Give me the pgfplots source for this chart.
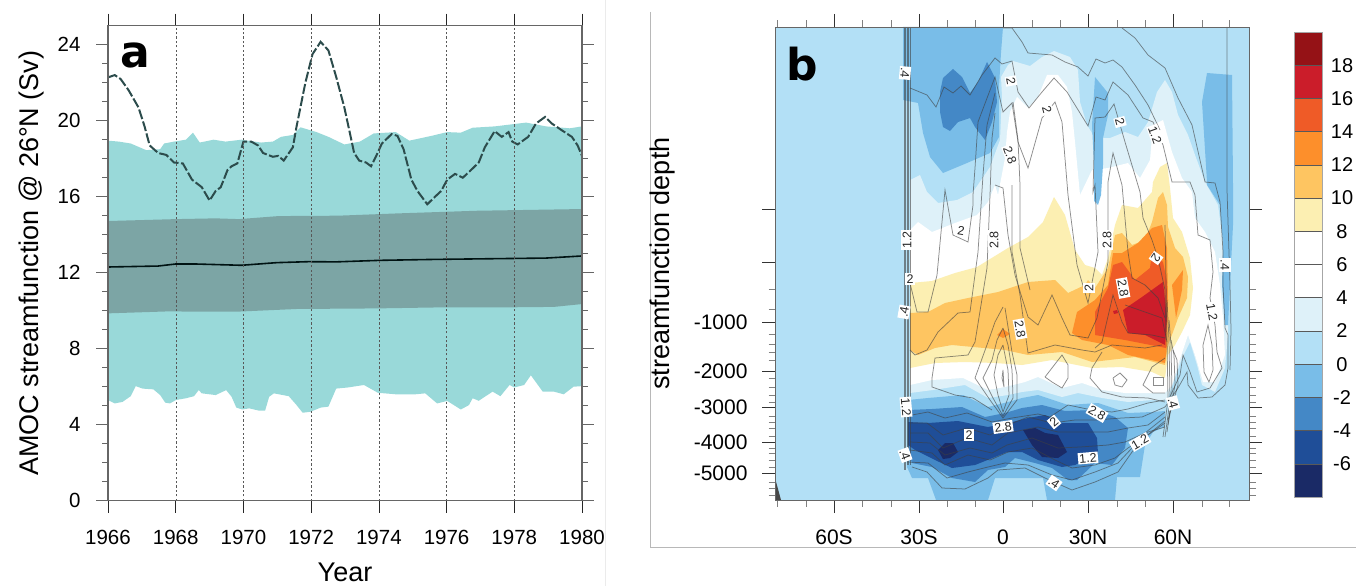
\documentclass[border=0pt]{standalone}
\usepackage{fontspec}
\setmainfont{Liberation Sans}
\newfontfamily\dv{DejaVu Sans}
\usepackage{pgfplots}
\pgfplotsset{compat=1.18}
\definecolor{cA}{HTML}{1A2A66}
\definecolor{cB}{HTML}{1F4E98}
\definecolor{cC}{HTML}{4488C6}
\definecolor{cD}{HTML}{79BDE8}
\definecolor{cE}{HTML}{B3E0F6}
\definecolor{cF}{HTML}{DEF1F9}
\definecolor{cG}{HTML}{FCEFB2}
\definecolor{cH}{HTML}{FEC561}
\definecolor{cI}{HTML}{FD8F2B}
\definecolor{cJ}{HTML}{EF5B27}
\definecolor{cK}{HTML}{CB1D2A}
\definecolor{cL}{HTML}{951216}
\definecolor{teal1}{HTML}{99D9D9}
\definecolor{teal2}{HTML}{7CA5A5}
\definecolor{teal3}{HTML}{2C4C4C}
\pgfplotsset{
  ctr/.style={draw=black!75,draw opacity=0.6,line width=0.75pt,no marks,forget plot},
  reg/.style={draw=none,no marks,forget plot},
}
\tikzset{lbl/.style={fill=white,inner sep=1.3pt,font=\fontsize{12.5}{13}\selectfont,text=black!85}}
\begin{document}
\begin{tikzpicture}[x=1pt,y=1pt]
\path[use as bounding box] (0,0) rectangle (1356,586);
% frame lines
\draw[black!8,line width=0.8pt] (605,0) -- (605,586);
\draw[black!28,line width=1pt] (650.5,574) -- (650.5,39) -- (1356,39);
% Panel a
\begin{axis}[
  at={(108pt,85.3pt)},anchor=south west,
  scale only axis,width=474pt,height=475pt,
  xmin=1966,xmax=1980,ymin=0,ymax=25,
  xtick={1966,1968,1970,1972,1974,1976,1978,1980},
  ytick={0,4,8,12,16,20,24},
  minor y tick num=3,
  tick align=outside,
  major tick length=12pt,minor tick length=6pt,
  ytick style={black!60,line width=1.1pt},
  xtick style={black!85,line width=0.6pt},
  minor tick style={black!45,line width=0.7pt},
  axis line style={black!60,line width=1.2pt},
  xmajorgrids,major grid style={black!65,line width=0.4pt,dash pattern=on 2.2pt off 2.2pt},
  axis on top,
  tick label style={font=\fontsize{20.5}{24}\selectfont},
  xticklabel style={yshift=-13.5pt},
  yticklabel style={xshift=-12pt},
  /pgf/number format/1000 sep={},
  /pgf/number format/assume math mode=true,
  xlabel={Year},ylabel={AMOC streamfunction @ 26°N (Sv)},
  every axis x label/.style={at={(axis description cs:0.5,0)},anchor=center,yshift=-72pt,font=\fontsize{27}{30}\selectfont},
  every axis y label/.style={at={(axis description cs:0,0.5)},rotate=90,anchor=center,yshift=76pt,font=\fontsize{27}{30}\selectfont},
]
\addplot[fill=teal1,reg] coordinates {
(1966,18.95)(1966.32,18.9)(1966.67,18.8)(1967.13,18.45)(1967.54,18.5)(1967.66,18.8)(1967.95,18.9)(1968.30,19)(1968.51,19.37)(1968.71,18.85)(1969.12,19)(1969.47,18.9)(1969.94,19)(1970.52,18.85)(1970.87,18.9)(1971.11,19.15)(1971.46,19.25)(1971.69,19.65)(1972.16,19.4)(1972.51,19.15)(1972.98,18.75)(1973.44,18.9)(1973.85,19.33)(1974.50,19.4)(1974.90,18.95)(1975.55,19.2)(1976.02,19.4)(1976.42,19.37)(1976.77,19.63)(1977.42,19.7)(1978.35,19.9)(1978.94,19.7)(1979.64,19.6)(1980,19.7)
(1980,6.03)(1979.75,6)(1979.46,5.6)(1979.17,5.74)(1978.84,5.74)(1978.49,6.6)(1978.29,6.09)(1978.00,5.96)(1977.86,6.09)(1977.59,5.5)(1977.36,5.74)(1976.95,5.26)(1976.77,5.39)(1976.66,5.03)(1976.42,4.8)(1976.02,5.25)(1975.72,5.12)(1975.37,5.65)(1975.08,5.6)(1974.50,5.6)(1973.97,5.68)(1973.56,6.09)(1973.09,5.96)(1972.74,5.9)(1972.51,4.95)(1972.28,4.9)(1971.98,4.68)(1971.75,4.63)(1971.57,5.03)(1971.34,5.5)(1970.90,5.65)(1970.76,5.47)(1970.64,4.74)(1970.46,4.74)(1970.17,4.86)(1969.96,4.8)(1969.79,4.9)(1969.65,5.47)(1969.49,5.82)(1969.18,5.56)(1968.77,5.65)(1968.68,5.82)(1968.54,5.5)(1968.30,5.39)(1968.01,5.3)(1967.83,5.12)(1967.69,5.16)(1967.54,5.56)(1967.34,5.86)(1967.02,5.9)(1966.82,6.03)(1966.67,5.5)(1966.43,5.2)(1966.20,5.12)(1966,5.3)
} -- cycle;
\addplot[fill=teal2,reg] coordinates {
(1966,14.72)(1968.0,14.82)(1969.17,14.86)(1969.87,14.82)(1971.04,14.98)(1972.79,15)(1974.54,15.12)(1976.88,15.26)(1980,15.35)
(1980,10.35)(1979.17,10.2)(1978,10.18)(1976.02,10.18)(1973.91,10.12)(1971.57,10.09)(1969.82,9.95)(1967.72,9.96)(1966,9.86)
} -- cycle;
\addplot[color=black!85!teal,line width=1.6pt,no marks] coordinates {
(1966,12.3)(1967.48,12.35)(1968.01,12.46)(1968.54,12.46)(1969.94,12.39)(1970.99,12.53)(1971.92,12.58)(1972.74,12.57)(1974.03,12.65)(1975.66,12.7)(1978,12.75)(1978.94,12.77)(1980,12.88)};
\addplot[color=teal3,line width=2pt,no marks,dash pattern=on 10pt off 2.5pt] coordinates {
(1966.00,22.28)(1966.20,22.4)(1966.37,22.2)(1966.61,21.6)(1966.90,20.7)(1967.08,19.7)(1967.23,18.7)(1967.48,18.3)(1967.72,18.2)(1967.95,17.8)(1968.21,17.75)(1968.48,16.9)(1968.77,16.5)(1969.00,15.8)(1969.18,16.3)(1969.33,16.5)(1969.53,17.4)(1969.65,17.6)(1969.82,17.75)(1970.00,18.9)(1970.23,18.9)(1970.43,18.7)(1970.58,18.3)(1970.87,18.1)(1971.03,18.15)(1971.19,17.9)(1971.46,18.6)(1971.57,19.7)(1971.83,22)(1972.04,23.5)(1972.28,24.15)(1972.51,23.7)(1972.74,22.3)(1972.98,20.7)(1973.15,19.3)(1973.27,18.3)(1973.42,17.9)(1973.62,17.8)(1973.77,17.6)(1973.91,18.1)(1974.09,18.8)(1974.38,19.3)(1974.55,19.2)(1974.73,18.5)(1974.96,16.9)(1975.14,16.3)(1975.43,15.6)(1975.66,16)(1975.84,16.3)(1976.02,16.9)(1976.25,17.2)(1976.48,17)(1976.72,17.4)(1976.95,17.8)(1977.13,18.6)(1977.42,19.45)(1977.63,19.15)(1977.83,19.4)(1977.94,18.9)(1978.10,18.75)(1978.41,19.15)(1978.64,19.85)(1978.91,20.2)(1979.11,19.85)(1979.40,19.5)(1979.70,19.15)(1979.87,18.7)(1980,18.15)};
\end{axis}
% Panel b
\begin{axis}[
  at={(775pt,86pt)},anchor=south west,
  scale only axis,width=474pt,height=473pt,
  xmin=775,xmax=1249,ymin=27,ymax=500,y dir=reverse,
  xtick={834,919,1003,1088,1173},
  xticklabels={60S,30S,0,30N,60N},
  minor xtick={777,806,862,891,947,975,1032,1060,1117,1145,1202,1229},
  ytick={209,262,322,371,407,442,473},
  yticklabels={,,-1000,-2000,-3000,-4000,-5000},
  minor ytick={289,309,334,344,352,360,378,387,395,402,416,422,428,436,448,453,460,467,482,488,495},
  tick align=outside,
  major tick length=13pt,minor tick length=6.5pt,
  major tick style={black!80,line width=0.6pt},
  minor tick style={black!50,line width=0.6pt},
  axis line style={black!60,line width=0.9pt},
  axis on top,
  tick label style={font=\fontsize{21}{24}\selectfont},
  xticklabel style={yshift=-13pt},
  yticklabel style={xshift=-11pt},
  /pgf/number format/assume math mode=true,
  ylabel={streamfunction depth},
  every axis y label/.style={at={(axis description cs:0,0.5)},rotate=90,anchor=center,yshift=112pt,font=\fontsize{27}{30}\selectfont},
]
% background
\addplot[fill=cE,reg] coordinates {(775,27)(1249,27)(1249,500)(775,500)} -- cycle;
\addplot[fill=black!72,reg] coordinates {(775,478)(781,500)(775,500)} -- cycle;
% pale
\addplot[fill=cF,reg] coordinates {(910,180)(920,175)(927,192)(938,203)(957,200)(973,192)(990,167)(1000,140)(1002,97)(1001,77)(1008,65)(1013,61)(1030,66)(1042,57)(1054,51)(1070,57)(1078,70)(1080,102)(1087,125)(1095,138)(1110,138)(1125,132)(1138,137)(1148,122)(1157,92)(1165,80)(1172,92)(1178,115)(1188,135)(1195,155)(1205,182)(1218,205)(1223,242)(1223,285)(1228,325)(1228,335)(1225,368)(1215,392)(1202,385)(1197,365)(1190,342)(1182,358)(1175,378)(1167,400)(1152,400)(1128,402)(1102,398)(1078,393)(1062,397)(1038,390)(1022,392)(1008,395)(988,398)(965,385)(933,390)(910,393)} -- cycle;
% white
\addplot[fill=white,reg] coordinates {(910,230)(918,222)(932,232)(955,223)(977,215)(988,202)(995,185)(998,195)(1005,158)(1007,132)(1010,112)(1017,97)(1028,108)(1038,97)(1047,75)(1058,75)(1067,87)(1072,112)(1075,142)(1080,195)(1092,170)(1108,168)(1128,163)(1140,178)(1150,160)(1153,125)(1163,120)(1172,152)(1182,178)(1192,192)(1195,218)(1205,232)(1215,252)(1220,285)(1223,318)(1225,355)(1215,382)(1203,382)(1195,355)(1188,335)(1178,365)(1172,385)(1165,393)(1152,393)(1125,393)(1102,390)(1082,383)(1062,388)(1038,377)(1025,382)(1005,387)(988,390)(963,378)(932,380)(910,385)} -- cycle;
% yellow
\addplot[fill=cG,reg] coordinates {(910,283)(932,281)(955,273)(977,267)(1008,248)(1028,237)(1043,222)(1054,197)(1065,215)(1075,250)(1085,265)(1095,268)(1102,275)(1108,258)(1115,225)(1122,205)(1138,208)(1152,192)(1153,182)(1160,167)(1167,163)(1170,188)(1173,218)(1182,232)(1190,258)(1193,288)(1190,315)(1182,332)(1175,345)(1168,355)(1165,378)(1152,372)(1122,367)(1092,368)(1052,360)(1022,365)(995,363)(965,362)(935,363)(910,368)} -- cycle;
% light orange
\addplot[fill=cH,reg] coordinates {(910,313)(928,312)(945,303)(968,298)(998,292)(1028,282)(1055,280)(1068,293)(1085,285)(1088,280)(1095,288)(1108,268)(1115,235)(1122,233)(1132,245)(1145,240)(1152,222)(1158,198)(1163,192)(1167,205)(1168,227)(1175,248)(1183,257)(1188,277)(1187,298)(1178,318)(1173,332)(1168,345)(1165,365)(1135,357)(1092,362)(1062,352)(1028,355)(1005,350)(952,345)(935,348)(918,355)(910,350)} -- cycle;
% orange
\addplot[fill=cI,reg] coordinates {(1072,333)(1077,312)(1095,300)(1108,285)(1113,253)(1122,253)(1138,243)(1152,228)(1162,225)(1167,248)(1168,300)(1167,345)(1165,363)(1128,355)(1108,345)(1082,340)} -- cycle;
\addplot[fill=cI,reg] coordinates {(1172,285)(1183,270)(1182,290)(1176,318)} -- cycle;
\addplot[fill=cI,reg] coordinates {(997,335)(1003,329)(1010,334)(1003,338)} -- cycle;
% red-orange
\addplot[fill=cJ,reg] coordinates {(1095,335)(1095,312)(1108,288)(1113,265)(1122,262)(1135,280)(1150,268)(1152,252)(1163,262)(1167,282)(1166,348)(1125,340)} -- cycle;
% deep red
\addplot[fill=cK,reg] coordinates {(1123,310)(1142,297)(1163,282)(1167,318)(1165,345)(1145,335)(1128,333)} -- cycle;
\addplot[fill=cK,reg] coordinates {(1113,311)(1117,310)(1118,313)(1114,314)} -- cycle;
% upper mid blues
\addplot[fill=cD,reg] coordinates {(903,27)(1003,27)(1001,53)(999,87)(999,137)(990,153)(967,163)(943,173)(930,157)(923,133)(918,103)(903,100)} -- cycle;
\addplot[fill=cD,reg] coordinates {(1095,77)(1108,93)(1108,115)(1103,138)(1103,165)(1101,195)(1098,205)(1094,201)(1094,165)(1092,125)} -- cycle;
\addplot[fill=cD,reg] coordinates {(1207,73)(1232,75)(1233,185)(1233,225)(1230,285)(1228,325)(1225,325)(1222,285)(1223,245)(1220,205)(1207,185)(1207,182)(1202,102)} -- cycle;
\addplot[fill=cC,reg] coordinates {(943,78)(953,69)(962,77)(970,93)(978,82)(987,62)(995,78)(997,102)(992,122)(985,140)(975,127)(970,118)(958,122)(950,131)(943,127)(940,112)(940,92)} -- cycle;
% lower blues
\addplot[fill=cD,reg] coordinates {(908,400)(928,398)(963,395)(988,407)(1008,402)(1022,398)(1038,395)(1068,405)(1098,403)(1128,413)(1152,412)(1165,411)(1164,427)(1153,432)(1145,445)(1140,477)(1117,477)(1115,500)(1047,500)(1043,478)(995,478)(988,500)(936,500)(928,478)(912,478)(907,467)(907,400)} -- cycle;
\addplot[fill=cC,reg] coordinates {(908,410)(932,409)(962,407)(985,417)(1005,413)(1022,408)(1042,405)(1065,411)(1095,410)(1115,417)(1128,428)(1125,448)(1112,465)(1095,463)(1077,480)(1068,480)(1052,468)(1035,463)(1015,458)(1005,467)(988,470)(975,482)(952,478)(932,467)(912,463)(908,452)} -- cycle;
\addplot[fill=cB,reg] coordinates {(908,422)(928,423)(958,421)(988,427)(1008,423)(1028,418)(1045,415)(1062,423)(1088,423)(1097,438)(1098,453)(1075,465)(1062,467)(1038,460)(1022,452)(1007,452)(995,457)(975,465)(952,468)(935,460)(915,450)(908,445)} -- cycle;
\addplot[fill=cA,reg] coordinates {(938,450)(945,443)(953,443)(958,452)(950,458)(943,459)} -- cycle;
\addplot[fill=cA,reg] coordinates {(1023,430)(1035,428)(1045,433)(1058,435)(1067,452)(1058,458)(1042,457)(1032,445)} -- cycle;
% contours: walls
\addplot[ctr] coordinates {(904,27)(904,470)};
\addplot[ctr] coordinates {(905.5,27)(905.5,470)};
\addplot[ctr] coordinates {(907,27)(907,465)};
\addplot[ctr] coordinates {(908.5,27)(908.5,465)};
\addplot[ctr] coordinates {(910,27)(910,465)};
\addplot[ctr] coordinates {(1227,27)(1227,190)(1230,285)(1231,330)(1230,370)};
% contours: upper
\addplot[ctr] coordinates {(1003,28)(1012,28)(1022,42)(1028,53)(1052,55)(1065,62)(1078,67)(1088,76)(1096,59)(1105,63)(1113,60)(1122,67)(1135,85)(1148,105)(1160,130)};
\addplot[ctr] coordinates {(1122,28)(1135,38)(1148,55)(1165,68)(1178,98)(1192,125)(1205,182)(1215,183)(1220,202)(1223,252)(1223,285)(1225,328)(1228,335)(1228,368)(1225,385)(1212,397)(1198,398)(1188,385)(1187,372)(1178,388)(1165,407)};
\addplot[ctr] coordinates {(910,88)(927,95)(936,107)(944,87)(953,93)(961,86)(970,95)(982,75)(995,58)(1002,64)(1012,61)(1018,92)(1029,108)(1042,92)(1054,78)(1067,92)(1088,126)(1096,97)(1105,100)(1113,82)(1128,95)(1143,118)(1153,122)(1163,145)(1172,182)(1190,182)(1195,195)(1198,235)(1210,240)(1213,272)(1210,298)(1215,325)(1217,352)(1222,368)(1210,388)(1197,392)(1190,372)(1183,355)(1180,375)(1167,403)};
\addplot[ctr] coordinates {(910,283)(917,312)(928,312)(937,275)(945,190)(953,235)(968,242)(973,205)(973,195)(975,168)(978,122)(995,77)(1003,112)(1012,103)(1018,142)(1028,168)(1042,118)(1055,102)(1062,122)(1068,195)(1077,265)(1088,303)(1098,252)(1095,185)(1093,192)(1095,118)(1105,117)(1114,104)(1125,142)(1140,192)(1143,218)(1152,240)(1158,258)(1165,290)(1166,340)};
\addplot[ctr] coordinates {(995,93)(987,125)(983,175)(978,252)(970,312)(958,313)(938,332)(927,350)(915,355)(910,350)};
\addplot[ctr] coordinates {(995,113)(992,138)(990,195)(987,268)(975,342)(968,355)(935,358)(932,378)(932,387)(955,395)(973,398)(992,410)};
\addplot[ctr] coordinates {(995,185)(1003,188)(1008,235)(1015,275)(1022,298)(1028,317)(1038,325)(1052,295)(1062,318)(1070,335)(1088,338)(1097,318)(1108,262)(1108,182)(1113,153)(1122,185)(1128,252)(1132,278)(1145,285)(1158,298)(1165,318)};
\addplot[ctr] coordinates {(1012,185)(1012,252)(1020,295)(1028,353)(1055,345)(1082,350)(1095,352)(1112,345)(1145,348)(1162,345)};
\addplot[ctr] coordinates {(1013,102)(1018,140)(1020,185)(1020,248)(1030,290)};
\addplot[ctr] coordinates {(1095,348)(1102,342)(1113,295)(1122,322)(1128,333)(1152,335)(1165,338)};
\addplot[ctr] coordinates {(1125,305)(1145,312)(1162,318)(1167,342)};
\addplot[ctr] coordinates {(1003,307)(995,322)(988,342)(975,378)(990,400)(1003,418)(1017,400)(1017,375)(1012,352)(1005,308)};
\addplot[ctr] coordinates {(1003,328)(997,340)(992,360)(983,378)(993,398)(1003,416)(1013,398)(1012,370)(1008,345)(1003,328)};
\addplot[ctr] coordinates {(1003,345)(998,355)(994,375)(998,395)(1003,412)(1009,395)(1008,370)(1003,345)};
\addplot[ctr] coordinates {(1003,370)(1002,378)(1004,387)(1003,370)};
\addplot[ctr] coordinates {(1113,378)(1120,373)(1127,380)(1122,387)(1115,385)(1113,378)};
\addplot[ctr] coordinates {(1045,377)(1062,355)(1068,365)(1068,378)(1062,388)(1052,382)(1045,377)};
\addplot[ctr] coordinates {(1102,352)(1092,368)(1090,378)(1102,392)(1122,397)(1148,398)(1165,402)};
\addplot[ctr] coordinates {(1165,358)(1152,367)(1143,385)(1153,393)(1165,393)};
\addplot[ctr] coordinates {(1153,377)(1163,377)(1163,385)(1153,385)(1153,377)};
\addplot[ctr] coordinates {(1203,345)(1208,325)(1212,345)(1213,370)(1209,382)(1204,372)(1203,345)};
% contours: lower waves
\addplot[ctr] coordinates {(912,415)(928,412)(945,418)(967,413)(992,422)(1012,418)(1038,414)(1050,417)(1068,405)(1092,410)(1112,412)(1128,409)(1148,403)(1165,400)};
\addplot[ctr] coordinates {(910,423)(927,423)(943,435)(967,428)(990,435)(1008,425)(1028,417)(1052,423)(1075,420)(1095,420)(1122,418)(1142,417)(1165,407)};
\addplot[ctr] coordinates {(910,433)(928,433)(943,448)(967,438)(992,445)(1008,433)(1038,427)(1058,432)(1085,432)(1108,432)(1128,428)(1148,425)(1165,412)};
\addplot[ctr] coordinates {(910,442)(930,443)(945,455)(970,448)(992,453)(1007,445)(1032,438)(1058,448)(1080,447)(1108,445)(1125,442)(1145,433)(1165,417)};
\addplot[ctr] coordinates {(910,450)(932,453)(945,465)(968,455)(990,460)(1008,452)(1032,448)(1055,460)(1072,468)(1095,465)(1115,458)(1128,448)(1145,437)(1165,421)};
\addplot[ctr] coordinates {(907,462)(928,463)(947,478)(968,472)(988,467)(1005,463)(1028,465)(1052,475)(1072,480)(1095,472)(1118,463)(1132,448)(1148,435)(1165,423)};
\addplot[ctr] coordinates {(912,467)(927,472)(942,488)(965,489)(988,478)(998,470)(1025,468)(1045,478)(1072,490)(1095,482)(1118,472)(1132,452)(1148,432)(1165,427)};
% bundle at 60N
\addplot[ctr] coordinates {(1165,225)(1167,340)(1168,400)(1163,437)};
\addplot[ctr] coordinates {(1167,300)(1169,340)(1170,400)(1165,437)};
\addplot[ctr] coordinates {(1169,320)(1171,345)(1172,395)(1167,432)};
\addplot[ctr] coordinates {(1171,340)(1174,355)(1175,385)(1168,425)};
\addplot[ctr] coordinates {(1173,350)(1177,360)(1178,385)(1168,420)};
% labels
\node[lbl,rotate=-95] at (axis cs:905,73) {.4};
\node[lbl,rotate=-80] at (axis cs:1011,81) {2};
\node[lbl,rotate=-75] at (axis cs:1047,110) {2};
\node[lbl,rotate=-70] at (axis cs:1010,155) {2.8};
\node[lbl,rotate=-75] at (axis cs:1120,122) {2};
\node[lbl,rotate=-70] at (axis cs:1155,135) {1.2};
\node[lbl,rotate=90] at (axis cs:907,240) {1.2};
\node[lbl,rotate=-10] at (axis cs:961,231) {2};
\node[lbl,rotate=90] at (axis cs:994,240) {2.8};
\node[lbl,rotate=90] at (axis cs:1107,240) {2.8};
\node[lbl] at (axis cs:910,279) {2};
\node[lbl,rotate=-90] at (axis cs:1225,265) {.4};
\node[lbl,rotate=-125] at (axis cs:1156,258) {2};
\node[lbl,rotate=90] at (axis cs:1089,288) {2};
\node[lbl,rotate=-80] at (axis cs:1123,288) {2.8};
\node[lbl,rotate=80] at (axis cs:904,312) {.4};
\node[lbl,rotate=-80] at (axis cs:1020,329) {2.8};
\node[lbl,rotate=-80] at (axis cs:1212,312) {1.2};
\node[lbl,rotate=-85] at (axis cs:906,407) {1.2};
\node[lbl,rotate=-30] at (axis cs:1097,413) {2.8};
\node[lbl,rotate=-75] at (axis cs:1173,403) {.4};
\node[lbl,rotate=8] at (axis cs:1003,427) {2.8};
\node[lbl,rotate=40] at (axis cs:1054,422) {2};
\node[lbl] at (axis cs:969,435) {2};
\node[lbl,rotate=-70] at (axis cs:905,455) {.4};
\node[lbl,rotate=30] at (axis cs:1140,442) {1.2};
\node[lbl,rotate=5] at (axis cs:1088,458) {1.2};
\node[lbl,rotate=-35] at (axis cs:1054,483) {.4};
\end{axis}
% Colour bar
\begin{axis}[
  at={(1294pt,89pt)},anchor=south west,
  scale only axis,width=28pt,height=465pt,
  xmin=0,xmax=1,ymin=-8,ymax=20,
  xtick=\empty,
  ytick={-6,-4,-2,0,2,4,6,8,10,12,14,16,18},
  yticklabel pos=right,
  major tick length=0pt,
  axis line style={black!35,line width=0.8pt},
  axis on top,
  yticklabel style={anchor=center,xshift=20pt,font=\fontsize{20}{24}\selectfont},
  /pgf/number format/assume math mode=true,
  cbar/.style={draw=black!65,line width=0.5pt,no marks,forget plot},
]
\addplot[fill=cA,cbar] coordinates {(0,-8)(1,-8)(1,-6)(0,-6)} -- cycle;
\addplot[fill=cB,cbar] coordinates {(0,-6)(1,-6)(1,-4)(0,-4)} -- cycle;
\addplot[fill=cC,cbar] coordinates {(0,-4)(1,-4)(1,-2)(0,-2)} -- cycle;
\addplot[fill=cD,cbar] coordinates {(0,-2)(1,-2)(1,0)(0,0)} -- cycle;
\addplot[fill=cE,cbar] coordinates {(0,0)(1,0)(1,2)(0,2)} -- cycle;
\addplot[fill=cF,cbar] coordinates {(0,2)(1,2)(1,4)(0,4)} -- cycle;
\addplot[fill=white,cbar] coordinates {(0,4)(1,4)(1,6)(0,6)} -- cycle;
\addplot[fill=white,cbar] coordinates {(0,6)(1,6)(1,8)(0,8)} -- cycle;
\addplot[fill=cG,cbar] coordinates {(0,8)(1,8)(1,10)(0,10)} -- cycle;
\addplot[fill=cH,cbar] coordinates {(0,10)(1,10)(1,12)(0,12)} -- cycle;
\addplot[fill=cI,cbar] coordinates {(0,12)(1,12)(1,14)(0,14)} -- cycle;
\addplot[fill=cJ,cbar] coordinates {(0,14)(1,14)(1,16)(0,16)} -- cycle;
\addplot[fill=cK,cbar] coordinates {(0,16)(1,16)(1,18)(0,18)} -- cycle;
\addplot[fill=cL,cbar] coordinates {(0,18)(1,18)(1,20)(0,20)} -- cycle;
\end{axis}
% panel letters
\node[font=\dv\bfseries\fontsize{44}{50}\selectfont,inner sep=0pt] at (135.5,531) {a};
\node[font=\dv\bfseries\fontsize{44}{50}\selectfont,inner sep=0pt] at (802,522) {b};
\end{tikzpicture}
\end{document}
